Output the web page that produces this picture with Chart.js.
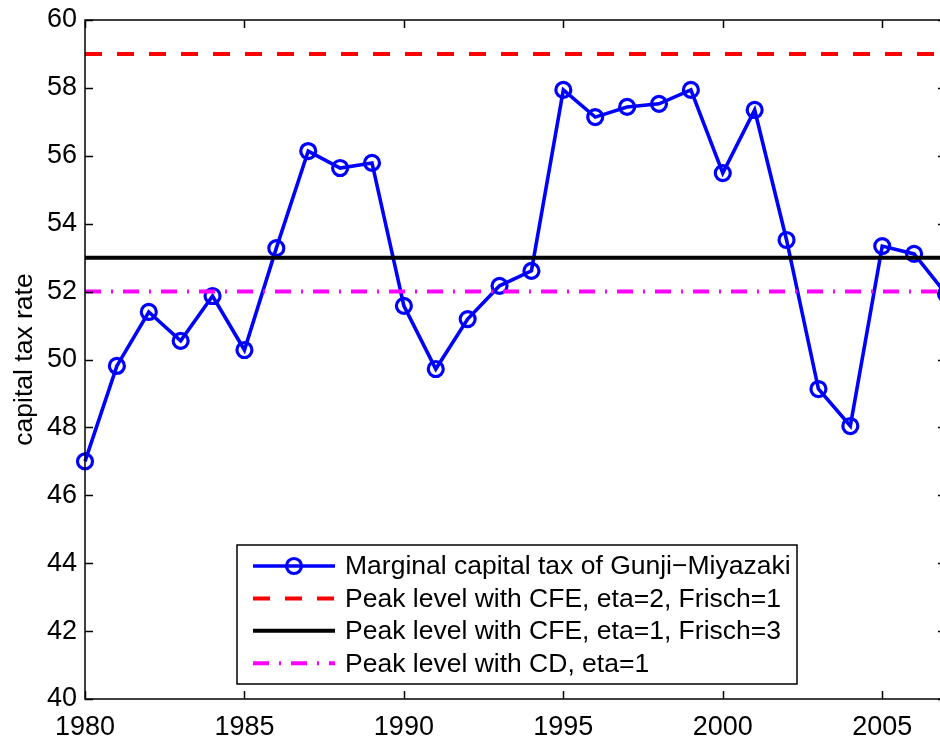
<!DOCTYPE html>
<html><head><meta charset="utf-8">
<script src="https://cdn.jsdelivr.net/npm/chart.js@4.4.1/dist/chart.umd.min.js"></script>
<style>
html,body{margin:0;padding:0;background:#fff;overflow:hidden;width:940px;height:742px}
#wrap{position:relative;width:940px;height:742px;overflow:hidden;background:#fff}
canvas{display:block}
</style></head><body>
<div id="wrap"><canvas id="c" width="960" height="742"></canvas></div>
<script>
const years = [1980,1981,1982,1983,1984,1985,1986,1987,1988,1989,1990,1991,1992,1993,1994,1995,1996,1997,1998,1999,2000,2001,2002,2003,2004,2005,2006,2007];
const marginalTax = [47.0,49.81,51.40,50.55,51.87,50.28,53.28,56.14,55.64,55.79,51.58,49.72,51.19,52.17,52.61,57.94,57.14,57.44,57.53,57.94,55.49,57.35,53.52,49.13,48.04,53.34,53.11,51.93];
const peakCFEeta2 = 59;
const peakCFEeta1 = 53;
const peakCD = 52;
const xTicks = [1980,1985,1990,1995,2000,2005];
const yTicks = [40,42,44,46,48,50,52,54,56,58,60];
const seriesLabels = [
  'Marginal capital tax of Gunji\u2212Miyazaki',
  'Peak level with CFE, eta=2, Frisch=1',
  'Peak level with CFE, eta=1, Frisch=3',
  'Peak level with CD, eta=1'
];
const xMin = 1980, xMax = 2007, yMin = 40, yMax = 60;

const FONT = '"Liberation Sans", Arial, Helvetica, sans-serif';
const flat = v => [{x: xMin, y: v}, {x: xMax, y: v}];

const datasets = [
  {label: seriesLabels[0], data: years.map((y,i)=>({x:y, y:marginalTax[i]})),
   borderColor:'#0000ff', borderWidth:3.6, pointRadius:7.5, pointBorderWidth:3.2,
   pointBackgroundColor:'rgba(0,0,0,0)', pointBorderColor:'#0000ff', pointHoverRadius:7.5,
   tension:0, clip:false, order:4, _dash:[], _marker:true},
  {label: seriesLabels[1], data: flat(peakCFEeta2), borderColor:'#ff0000', borderWidth:4,
   borderDash:[17,15], pointRadius:0, order:3, _dash:[17,15]},
  {label: seriesLabels[2], data: flat(peakCFEeta1), borderColor:'#000000', borderWidth:4,
   pointRadius:0, order:2, _dash:[]},
  {label: seriesLabels[3], data: flat(peakCD), borderColor:'#ff00ff', borderWidth:4,
   borderDash:[16,10,2,10], pointRadius:0, order:1, _dash:[16,10,2,10]}
];

const framePlugin = {
  id:'frame',
  afterDatasetsDraw(chart){
    const {ctx, chartArea:a, scales:{x, y}} = chart;
    ctx.save();
    ctx.strokeStyle = '#000'; ctx.lineWidth = 1.5; ctx.setLineDash([]);
    ctx.strokeRect(a.left, a.top, a.right - a.left, a.bottom - a.top);
    const tl = 8;
    ctx.beginPath();
    xTicks.forEach(v=>{
      const px = Math.round(x.getPixelForValue(v)) + 0.5;
      ctx.moveTo(px, a.bottom); ctx.lineTo(px, a.bottom - tl);
      ctx.moveTo(px, a.top); ctx.lineTo(px, a.top + tl);
    });
    yTicks.forEach(v=>{
      const py = Math.round(y.getPixelForValue(v)) + 0.5;
      ctx.moveTo(a.left, py); ctx.lineTo(a.left + tl, py);
      ctx.moveTo(a.right, py); ctx.lineTo(a.right - tl, py);
    });
    ctx.stroke();

    // legend
    const L = a.left + 152, T = a.bottom - 154, W = 560, H = 139;
    ctx.fillStyle = '#fff';
    ctx.fillRect(L, T, W, H);
    ctx.strokeStyle = '#000'; ctx.lineWidth = 1.5;
    ctx.strokeRect(L, T, W, H);
    ctx.font = '26.5px ' + FONT;
    ctx.textBaseline = 'middle'; ctx.textAlign = 'left';
    chart.data.datasets.forEach((ds, i) => {
      const ry = T + 21 + i * 32.4;
      ctx.save();
      ctx.strokeStyle = ds.borderColor; ctx.lineWidth = ds.borderWidth;
      ctx.setLineDash(ds._dash);
      ctx.beginPath(); ctx.moveTo(L + 16, ry); ctx.lineTo(L + 98, ry); ctx.stroke();
      if (ds._marker){
        ctx.setLineDash([]); ctx.lineWidth = ds.pointBorderWidth;
        ctx.beginPath(); ctx.arc(L + 57, ry, ds.pointRadius, 0, Math.PI*2); ctx.stroke();
      }
      ctx.restore();
      ctx.fillStyle = '#000';
      ctx.fillText(ds.label, L + 108, ry + 1);
    });
    ctx.restore();
  }
};

const zeroPad = s => { s.paddingTop = 0; s.paddingBottom = 0; s.paddingLeft = 0; s.paddingRight = 0; };

new Chart(document.getElementById('c'), {
  type:'line',
  data:{datasets},
  options:{
    responsive:false, animation:false,
    layout:{padding:{top:20, right:14, left:0, bottom:0}},
    plugins:{legend:{display:false}, tooltip:{enabled:false}},
    scales:{
      x:{type:'linear', min:xMin, max:xMax,
         afterBuildTicks: s => { s.ticks = xTicks.map(v=>({value:v})); },
         afterFit: s => { s.height = 43; zeroPad(s); },
         grid:{display:false, drawTicks:false}, border:{display:false},
         ticks:{color:'#000', font:{family:FONT, size:27}, padding:12, maxRotation:0, autoSkip:false,
                callback: v => String(v)}},
      y:{type:'linear', min:yMin, max:yMax,
         afterBuildTicks: s => { s.ticks = yTicks.map(v=>({value:v})); },
         afterFit: s => { s.width = 85; zeroPad(s); },
         grid:{display:false, drawTicks:false}, border:{display:false},
         ticks:{color:'#000', font:{family:FONT, size:27}, padding:8, autoSkip:false},
         title:{display:true, text:'capital tax rate', color:'#000', font:{family:FONT, size:26.5},
                padding:{top:9, bottom:0}}}
    }
  },
  plugins:[framePlugin]
});
</script>
</body></html>
